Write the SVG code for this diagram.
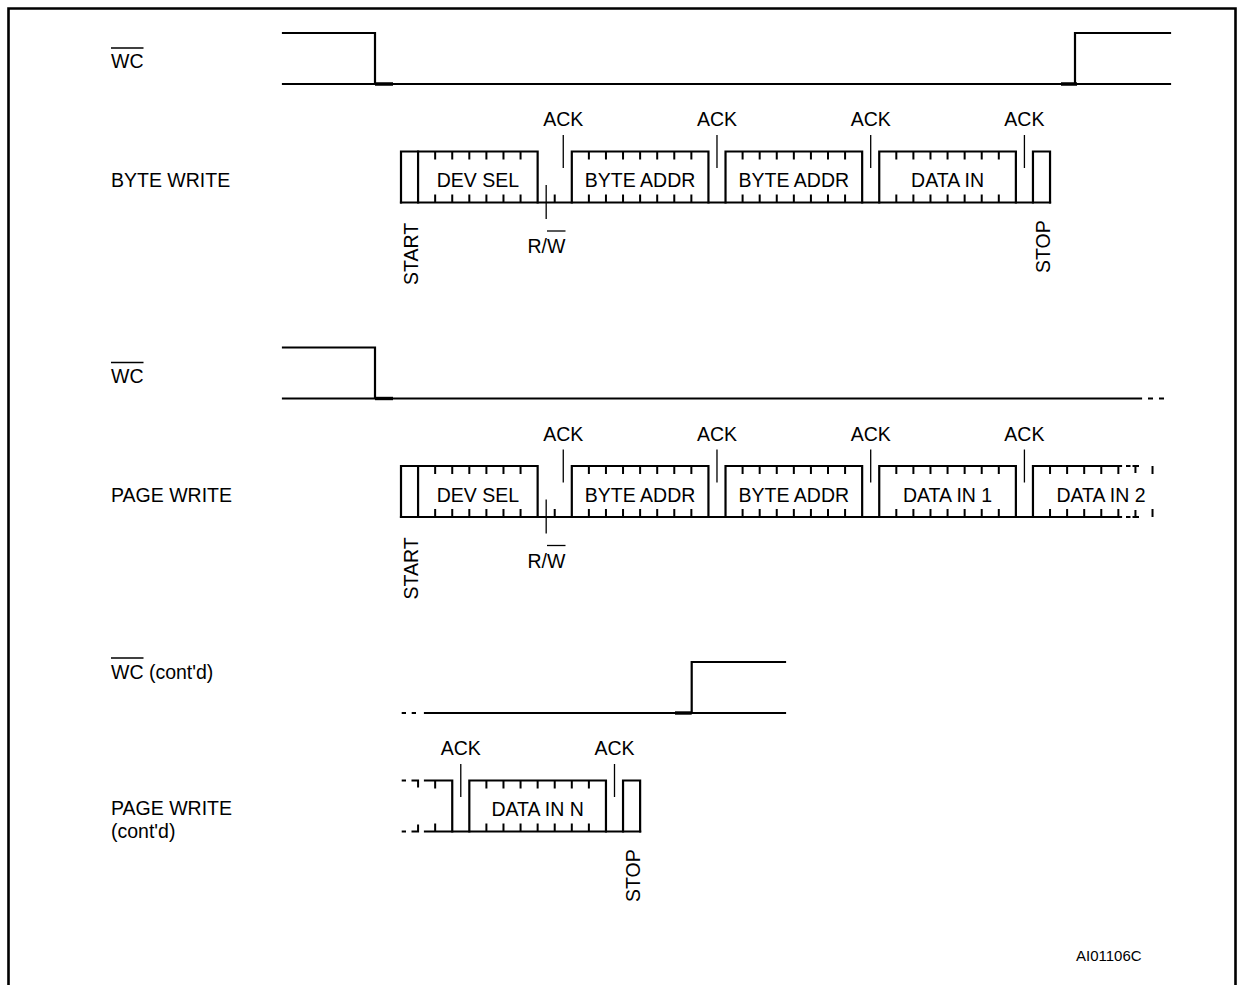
<svg xmlns="http://www.w3.org/2000/svg" width="1239" height="985" viewBox="0 0 1239 985">
<style>
.ln{fill:none;stroke:#000;stroke-width:2.2;stroke-linecap:square}
.tk{fill:none;stroke:#000;stroke-width:2}
.thin{fill:none;stroke:#000;stroke-width:1.3}
.thick{fill:none;stroke:#000;stroke-width:3.4}
.t{font-family:"Liberation Sans",Arial,Helvetica,sans-serif;font-size:19.5px;fill:#000}
.m{text-anchor:middle}
</style>
<rect width="1239" height="985" fill="#fff"/>
<path d="M8.5 985 V8.5 H1235.5 V985" fill="none" stroke="#000" stroke-width="2.6"/>

<!-- ===== Row 1: BYTE WRITE ===== -->
<g id="row1">
  <g id="wc1">
    <text class="t" x="111" y="68">WC</text>
    <path class="thin" d="M111 48 H143.5"/>
    <path class="ln" d="M283 33 H375 V84 M283 84 H1170 M1075 84 V33 H1170"/>
    <path class="thick" d="M375 84 H393 M1061 84 H1077"/>
  </g>
  <text id="bw-label" class="t" x="111" y="187">BYTE WRITE</text>
  <path id="bw-bus" class="ln" d="M401 202.5 H1050.04"/>
  <g id="bw-start">
    <path class="ln" d="M401 202.5 V151.5 H418.08 V202.5"/>
    <text class="t" transform="translate(418,285) rotate(-90)">START</text>
  </g>
  <g id="bw-devsel">
    <path class="ln" d="M418.08 151.5 H537.64 V202.5"/>
    <path class="tk" d="M435.16 151.5v8M452.24 151.5v8M469.32 151.5v8M486.4 151.5v8M503.48 151.5v8M520.56 151.5v8M435.16 202.5v-8M452.24 202.5v-8M469.32 202.5v-8M486.4 202.5v-8M503.48 202.5v-8M520.56 202.5v-8M554.72 202.5v-8"/>
    <text class="t m" x="477.86" y="187">DEV SEL</text>
  </g>
  <g id="bw-addr1">
    <path class="ln" d="M571.8 202.5 V151.5 H708.44 V202.5"/>
    <path class="tk" d="M588.88 151.5v8M605.96 151.5v8M623.04 151.5v8M640.12 151.5v8M657.2 151.5v8M674.28 151.5v8M691.36 151.5v8M588.88 202.5v-8M605.96 202.5v-8M623.04 202.5v-8M640.12 202.5v-8M657.2 202.5v-8M674.28 202.5v-8M691.36 202.5v-8"/>
    <text class="t m" x="640.12" y="187">BYTE ADDR</text>
  </g>
  <g id="bw-addr2">
    <path class="ln" d="M725.52 202.5 V151.5 H862.16 V202.5"/>
    <path class="tk" d="M742.6 151.5v8M759.68 151.5v8M776.76 151.5v8M793.84 151.5v8M810.92 151.5v8M828 151.5v8M845.08 151.5v8M742.6 202.5v-8M759.68 202.5v-8M776.76 202.5v-8M793.84 202.5v-8M810.92 202.5v-8M828 202.5v-8M845.08 202.5v-8"/>
    <text class="t m" x="793.84" y="187">BYTE ADDR</text>
  </g>
  <g id="bw-data">
    <path class="ln" d="M879.24 202.5 V151.5 H1015.88 V202.5"/>
    <path class="tk" d="M896.32 151.5v8M913.4 151.5v8M930.48 151.5v8M947.56 151.5v8M964.64 151.5v8M981.72 151.5v8M998.8 151.5v8M896.32 202.5v-8M913.4 202.5v-8M930.48 202.5v-8M947.56 202.5v-8M964.64 202.5v-8M981.72 202.5v-8M998.8 202.5v-8"/>
    <text class="t m" x="947.56" y="187">DATA IN</text>
  </g>
  <g id="bw-stop">
    <path class="ln" d="M1032.96 202.5 V151.5 H1050.04 V202.5"/>
    <text class="t" transform="translate(1050,273) rotate(-90)">STOP</text>
  </g>
  <g id="bw-marks">
    <path class="thin" d="M563.26 135 V168 M716.98 135 V168 M870.7 135 V168 M1024.42 135 V168 M546.18 185 V219"/>
    <text class="t m" x="563.26" y="126">ACK</text>
    <text class="t m" x="716.98" y="126">ACK</text>
    <text class="t m" x="870.7" y="126">ACK</text>
    <text class="t m" x="1024.42" y="126">ACK</text>
    <text class="t" x="527.5" y="253">R/W</text>
    <path class="thin" d="M547 231 H565.5"/>
  </g>
</g>

<!-- ===== Row 2: PAGE WRITE ===== -->
<g id="row2" transform="translate(0,314.5)">
  <g id="wc2">
    <text class="t" x="111" y="68">WC</text>
    <path class="thin" d="M111 48 H143.5"/>
    <path class="ln" d="M283 33 H375 V84 M283 84 H1141"/>
    <path class="tk" d="M1148 84 H1153 M1159 84 H1164"/>
    <path class="thick" d="M375 84 H393"/>
  </g>
  <text id="pw-label" class="t" x="111" y="187">PAGE WRITE</text>
  <path id="pw-bus" class="ln" d="M401 202.5 H1121"/>
  <g id="pw-start">
    <path class="ln" d="M401 202.5 V151.5 H418.08 V202.5"/>
    <text class="t" transform="translate(418,285) rotate(-90)">START</text>
  </g>
  <g id="pw-devsel">
    <path class="ln" d="M418.08 151.5 H537.64 V202.5"/>
    <path class="tk" d="M435.16 151.5v8M452.24 151.5v8M469.32 151.5v8M486.4 151.5v8M503.48 151.5v8M520.56 151.5v8M435.16 202.5v-8M452.24 202.5v-8M469.32 202.5v-8M486.4 202.5v-8M503.48 202.5v-8M520.56 202.5v-8M554.72 202.5v-8"/>
    <text class="t m" x="477.86" y="187">DEV SEL</text>
  </g>
  <g id="pw-addr1">
    <path class="ln" d="M571.8 202.5 V151.5 H708.44 V202.5"/>
    <path class="tk" d="M588.88 151.5v8M605.96 151.5v8M623.04 151.5v8M640.12 151.5v8M657.2 151.5v8M674.28 151.5v8M691.36 151.5v8M588.88 202.5v-8M605.96 202.5v-8M623.04 202.5v-8M640.12 202.5v-8M657.2 202.5v-8M674.28 202.5v-8M691.36 202.5v-8"/>
    <text class="t m" x="640.12" y="187">BYTE ADDR</text>
  </g>
  <g id="pw-addr2">
    <path class="ln" d="M725.52 202.5 V151.5 H862.16 V202.5"/>
    <path class="tk" d="M742.6 151.5v8M759.68 151.5v8M776.76 151.5v8M793.84 151.5v8M810.92 151.5v8M828 151.5v8M845.08 151.5v8M742.6 202.5v-8M759.68 202.5v-8M776.76 202.5v-8M793.84 202.5v-8M810.92 202.5v-8M828 202.5v-8M845.08 202.5v-8"/>
    <text class="t m" x="793.84" y="187">BYTE ADDR</text>
  </g>
  <g id="pw-data1">
    <path class="ln" d="M879.24 202.5 V151.5 H1015.88 V202.5"/>
    <path class="tk" d="M896.32 151.5v8M913.4 151.5v8M930.48 151.5v8M947.56 151.5v8M964.64 151.5v8M981.72 151.5v8M998.8 151.5v8M896.32 202.5v-8M913.4 202.5v-8M930.48 202.5v-8M947.56 202.5v-8M964.64 202.5v-8M981.72 202.5v-8M998.8 202.5v-8"/>
    <text class="t m" x="947.56" y="187">DATA IN 1</text>
  </g>
  <g id="pw-data2">
    <path class="ln" d="M1032.96 202.5 V151.5 H1121"/>
    <path class="tk" d="M1050.04 151.5v8M1067.12 151.5v8M1084.2 151.5v8M1101.28 151.5v8M1118.36 151.5v8M1050.04 202.5v-8M1067.12 202.5v-8M1084.2 202.5v-8M1101.28 202.5v-8M1118.36 202.5v-8"/>
    <path class="tk" d="M1126 151.5 H1130.5 M1132.5 151.5 H1139 M1135.44 151.5 v7 M1152.52 151.5 v8 M1126 202.5 H1130.5 M1132.5 202.5 H1139 M1135.44 202.5 v-7 M1152.52 202.5 v-8"/>
    <text class="t m" x="1101" y="187">DATA IN 2</text>
  </g>
  <g id="pw-marks">
    <path class="thin" d="M563.26 135 V168 M716.98 135 V168 M870.7 135 V168 M1024.42 135 V168 M546.18 185 V219"/>
    <text class="t m" x="563.26" y="126">ACK</text>
    <text class="t m" x="716.98" y="126">ACK</text>
    <text class="t m" x="870.7" y="126">ACK</text>
    <text class="t m" x="1024.42" y="126">ACK</text>
    <text class="t" x="527.5" y="253">R/W</text>
    <path class="thin" d="M547 231 H565.5"/>
  </g>
</g>

<!-- ===== Row 3: PAGE WRITE (cont'd) ===== -->
<g id="row3-labels">
  <text class="t" x="111" y="679">WC (cont'd)</text>
  <path class="thin" d="M111 658 H143.5"/>
  <text class="t" x="111" y="815">PAGE WRITE</text>
  <text class="t" x="111" y="838">(cont'd)</text>
</g>
<g id="row3" transform="translate(0,629)">
  <g id="wc3">
    <path class="tk" d="M401.7 84 H406 M411.7 84 H416"/>
    <path class="ln" d="M425 84 H785 M691.7 84 V33 H785"/>
    <path class="thick" d="M675 84 H691.7"/>
  </g>
  <path id="pc-bus" class="ln" d="M425 202.5 H640.12"/>
  <g id="pc-prev">
    <path class="tk" d="M401.7 151.5 H406 M411.5 151.5 H418.08 v7 M401.7 202.5 H406 M411.5 202.5 H418.08 v-7"/>
    <path class="ln" d="M425 151.5 H452.24 V202.5"/>
    <path class="tk" d="M435.16 151.5v8M435.16 202.5v-8"/>
  </g>
  <g id="pc-datan">
    <path class="ln" d="M469.32 202.5 V151.5 H605.96 V202.5"/>
    <path class="tk" d="M486.4 151.5v8M503.48 151.5v8M520.56 151.5v8M537.64 151.5v8M554.72 151.5v8M571.8 151.5v8M588.88 151.5v8M486.4 202.5v-8M503.48 202.5v-8M520.56 202.5v-8M537.64 202.5v-8M554.72 202.5v-8M571.8 202.5v-8M588.88 202.5v-8"/>
    <text class="t m" x="537.64" y="187">DATA IN N</text>
  </g>
  <g id="pc-stop">
    <path class="ln" d="M623.04 202.5 V151.5 H640.12 V202.5"/>
    <text class="t" transform="translate(640,273) rotate(-90)">STOP</text>
  </g>
  <g id="pc-marks">
    <path class="thin" d="M460.78 135 V168 M614.5 135 V168"/>
    <text class="t m" x="460.78" y="126">ACK</text>
    <text class="t m" x="614.5" y="126">ACK</text>
  </g>
</g>

<text id="ref" x="1076" y="961" style="font-family:'Liberation Sans',Arial,sans-serif;font-size:15px;fill:#000">AI01106C</text>
</svg>
